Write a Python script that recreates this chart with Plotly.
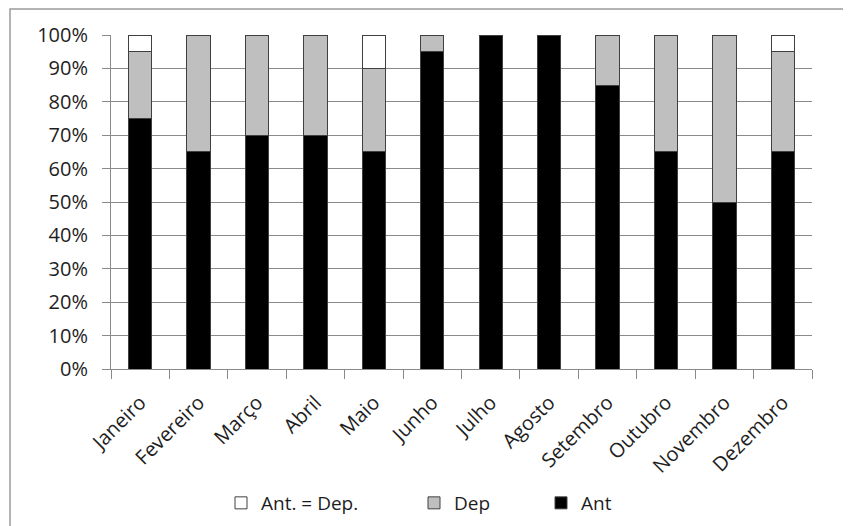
import plotly.graph_objects as go

months = ["Janeiro", "Fevereiro", "Março", "Abril", "Maio", "Junho", "Julho",
          "Agosto", "Setembro", "Outubro", "Novembro", "Dezembro"]
ant = [75, 65, 70, 70, 65, 95, 100, 100, 85, 65, 50, 65]
dep = [20, 35, 30, 30, 25, 5, 0, 0, 15, 35, 50, 30]
igual = [5, 0, 0, 0, 10, 0, 0, 0, 0, 0, 0, 5]
y_ticks = [0, 10, 20, 30, 40, 50, 60, 70, 80, 90, 100]
y_tick_labels = ["0%", "10%", "20%", "30%", "40%", "50%", "60%", "70%", "80%", "90%", "100%"]

FONT = "Open Sans"
TXT = "#1e1e1e"
GRID = "#8a8a8a"
OUTLINE = "#404040"

# page body has an 8px margin: the figure is drawn from screen (8, 8)
OFF = 8
W, H = 851 - OFF, 526 - OFF
L, R, T, B = 111 - OFF, 851 - 812, 35 - OFF, 526 - 369
pw, ph = W - L - R, H - T - B

def px(x):  # screen x -> paper x
    return (x - OFF - L) / pw

def py(y):  # screen y -> paper y
    return (H - B - (y - OFF)) / ph

def cx(x):  # screen x -> container x
    return (x - OFF) / W

def cy(y):  # screen y -> container y
    return 1 - (y - OFF) / H

fig = go.Figure()
fig.add_trace(go.Bar(x=months, y=ant, name="Ant", legend="legend3",
                     marker=dict(color="#000000", line=dict(color=OUTLINE, width=1))))
fig.add_trace(go.Bar(x=months, y=dep, name="Dep", legend="legend2",
                     marker=dict(color="#bfbfbf", line=dict(color=OUTLINE, width=1))))
fig.add_trace(go.Bar(x=months, y=igual, name="Ant. = Dep.", legend="legend",
                     marker=dict(color="#ffffff", line=dict(color=OUTLINE, width=1))))

leg_common = dict(orientation="h", yanchor="middle", xanchor="left",
                  xref="container", yref="container",
                  font=dict(family=FONT, size=19, color=TXT),
                  bgcolor="rgba(0,0,0,0)", borderwidth=0,
                  itemwidth=30, y=cy(503))

fig.update_layout(
    width=W, height=H,
    margin=dict(l=L, r=R, t=T, b=B, autoexpand=False),
    paper_bgcolor="white", plot_bgcolor="white",
    barmode="stack", bargap=0.6,
    showlegend=True,
    legend=dict(x=cx(221), **leg_common),
    legend2=dict(x=cx(414), **leg_common),
    legend3=dict(x=cx(541), **leg_common),
    font=dict(family=FONT, size=20, color=TXT),
    xaxis=dict(
        showline=True, linecolor=GRID, linewidth=1, automargin=False,
        ticks="outside", tickson="boundaries", ticklen=9, tickcolor=GRID,
        tickangle=-45, showgrid=False, ticklabelstandoff=13,
        tickfont=dict(family=FONT, size=20, color=TXT),
    ),
    yaxis=dict(
        range=[0, 100], tickmode="array", tickvals=y_ticks, ticktext=y_tick_labels,
        showline=True, linecolor=GRID, linewidth=1, automargin=False,
        ticks="outside", ticklen=8, tickcolor=GRID,
        showgrid=True, gridcolor=GRID, gridwidth=1,
        zeroline=False, ticklabelstandoff=10,
        tickfont=dict(family=FONT, size=20, color=TXT),
    ),
    shapes=[dict(type="rect", xref="paper", yref="paper",
                 x0=px(10), x1=px(880), y0=py(560), y1=py(9),
                 line=dict(color="#9a9a9a", width=1.5), layer="below")],
)

fig.write_html("out.html")
